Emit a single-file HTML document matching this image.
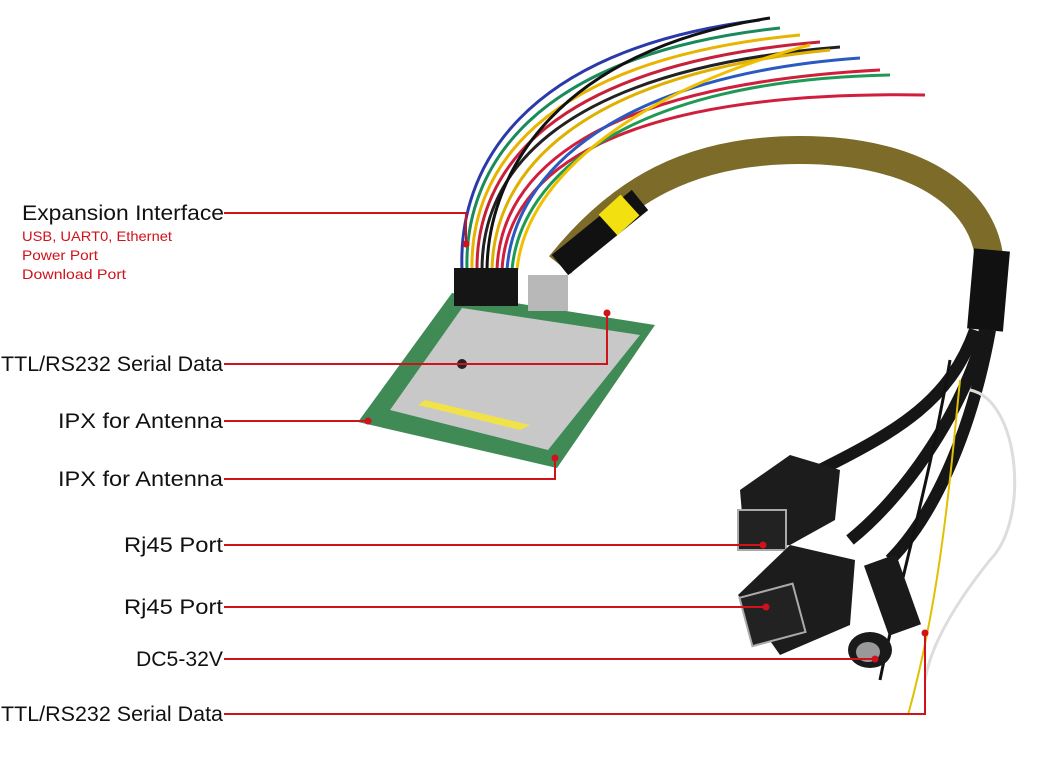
<!DOCTYPE html>
<html><head><meta charset="utf-8"><style>
html,body{margin:0;padding:0;background:#fff;width:1063px;height:768px;overflow:hidden}
svg{display:block}
.l{font-family:"Liberation Sans Narrow","Liberation Sans",sans-serif;font-size:21px;fill:#111}
.r{font-family:"Liberation Sans Narrow","Liberation Sans",sans-serif;font-size:14px;fill:#d0121b}
</style></head><body>
<svg width="1063" height="768" viewBox="0 0 1063 768">
<!-- wires -->
<g fill="none" stroke-width="3">
<path d="M462 270 C458 170 520 50 760 20" stroke="#2a3aa8"/>
<path d="M467 270 C464 170 530 55 780 28" stroke="#1a8a5a"/>
<path d="M472 270 C470 170 540 60 800 35" stroke="#e8b400"/>
<path d="M477 270 C476 170 550 65 820 42" stroke="#c8203a"/>
<path d="M482 270 C482 170 560 70 840 47" stroke="#222"/>
<path d="M487 270 C488 170 560 50 770 18" stroke="#111"/>
<path d="M492 270 C494 170 580 75 830 50" stroke="#e0b000"/>
<path d="M497 270 C500 170 600 85 880 70" stroke="#d01f3c"/>
<path d="M502 270 C507 170 620 90 925 95" stroke="#d01f3c"/>
<path d="M507 270 C514 170 620 75 860 58" stroke="#2a5ac0"/>
<path d="M512 270 C520 175 630 80 890 75" stroke="#1f9a55"/>
<path d="M517 270 C526 175 640 90 810 45" stroke="#f0c000"/>
</g>
<!-- braided cable -->
<path d="M560 265 C620 190 690 150 800 150 C920 150 990 200 990 270" fill="none" stroke="#7d6b2a" stroke-width="28"/>
<path d="M560 265 L640 200" stroke="#111" stroke-width="26"/>
<path d="M608 225 L630 205" stroke="#f2e010" stroke-width="28"/>
<path d="M992 250 L985 330" stroke="#111" stroke-width="36"/>
<!-- cables down -->
<g fill="none" stroke="#161616" stroke-width="12">
<path d="M975 330 C950 400 900 430 820 470"/>
<path d="M985 330 C960 420 900 500 850 540"/>
<path d="M990 330 C970 440 930 520 890 560"/>
</g>
<path d="M960 380 C950 480 940 600 908 715" fill="none" stroke="#e0c000" stroke-width="2"/>
<path d="M950 360 C930 480 900 580 880 680" fill="none" stroke="#111" stroke-width="3"/>
<path d="M970 390 C1020 400 1030 520 990 560 C950 610 930 650 925 680" fill="none" stroke="#ddd" stroke-width="3"/>
<!-- rj45 #1 -->
<polygon points="740,490 790,455 840,470 835,520 790,545 745,550" fill="#1c1c1c"/>
<rect x="738" y="510" width="48" height="40" fill="#222" stroke="#aaa" stroke-width="2"/>
<!-- rj45 #2 -->
<polygon points="738,595 790,545 855,560 850,625 780,655" fill="#1c1c1c"/>
<rect x="745" y="590" width="55" height="50" fill="#222" stroke="#aaa" stroke-width="2" transform="rotate(-15 772 615)"/>
<!-- DC jack -->
<path d="M880 560 L905 630" stroke="#1a1a1a" stroke-width="34"/>
<ellipse cx="870" cy="650" rx="22" ry="18" fill="#1a1a1a"/>
<ellipse cx="868" cy="652" rx="12" ry="10" fill="#999"/>
<!-- PCB -->
<polygon points="452,293 655,325 557,468 358,422" fill="#3f8a55"/>
<polygon points="462,308 640,335 548,450 390,410" fill="#c8c8c8"/>
<polygon points="425,400 530,425 520,430 418,405" fill="#f2e24a"/>
<rect x="454" y="268" width="64" height="38" fill="#151515"/>
<rect x="528" y="275" width="40" height="36" fill="#b8b8b8"/>
<circle cx="462" cy="364" r="5" fill="#222"/>
<!-- leaders -->
<g stroke="#d0121b" stroke-width="2" fill="none">
<path d="M224 213 H466 V244"/>
<path d="M224 364 H607 V313"/>
<path d="M224 421 H368"/>
<path d="M224 479 H555 V458"/>
<path d="M224 545 H763"/>
<path d="M224 607 H766"/>
<path d="M224 659 H875"/>
<path d="M224 714 H925 V633"/>
</g>
<g fill="#d0121b">
<circle cx="466" cy="244" r="3.5"/><circle cx="607" cy="313" r="3.5"/>
<circle cx="368" cy="421" r="3.5"/><circle cx="555" cy="458" r="3.5"/>
<circle cx="763" cy="545" r="3.5"/><circle cx="766" cy="607" r="3.5"/>
<circle cx="875" cy="659" r="3.5"/><circle cx="925" cy="633" r="3.5"/>
</g>
<!-- labels -->
<text class="l" x="22" y="220" textLength="202" lengthAdjust="spacingAndGlyphs">Expansion Interface</text>
<text class="r" x="22" y="241" textLength="150" lengthAdjust="spacingAndGlyphs">USB, UART0, Ethernet</text>
<text class="r" x="22" y="260" textLength="76" lengthAdjust="spacingAndGlyphs">Power Port</text>
<text class="r" x="22" y="279" textLength="104" lengthAdjust="spacingAndGlyphs">Download Port</text>
<text class="l" x="1" y="371" textLength="222" lengthAdjust="spacingAndGlyphs">TTL/RS232 Serial Data</text>
<text class="l" x="58" y="428" textLength="165" lengthAdjust="spacingAndGlyphs">IPX  for Antenna</text>
<text class="l" x="58" y="486" textLength="165" lengthAdjust="spacingAndGlyphs">IPX  for Antenna</text>
<text class="l" x="124" y="552" textLength="99" lengthAdjust="spacingAndGlyphs">Rj45  Port</text>
<text class="l" x="124" y="614" textLength="99" lengthAdjust="spacingAndGlyphs">Rj45  Port</text>
<text class="l" x="136" y="666" textLength="87" lengthAdjust="spacingAndGlyphs">DC5-32V</text>
<text class="l" x="1" y="721" textLength="222" lengthAdjust="spacingAndGlyphs">TTL/RS232 Serial Data</text>
</svg>
</body></html>
